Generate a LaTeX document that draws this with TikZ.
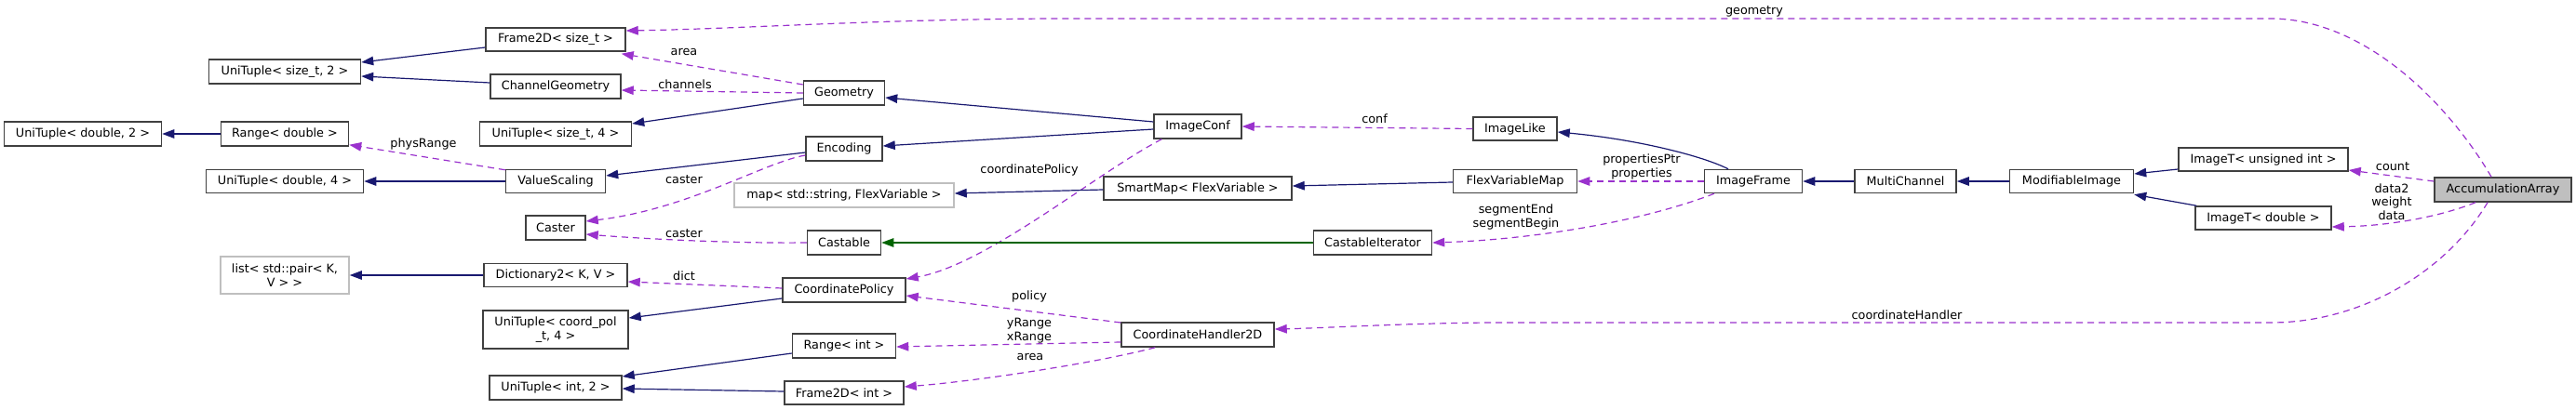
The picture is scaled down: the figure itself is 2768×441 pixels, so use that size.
\documentclass[tikz,border=0pt]{standalone}
\usepackage{fontspec}
\setmainfont{DejaVu Sans}
\usetikzlibrary{arrows.meta}
\definecolor{inhcol}{HTML}{191970}
\definecolor{usecol}{HTML}{9A32CD}
\definecolor{protcol}{HTML}{006400}
\definecolor{boxgray}{HTML}{BFBFBF}
\definecolor{edgegray}{HTML}{404040}
\begin{document}
\begin{tikzpicture}[x=1pt,y=-1pt,
  cls/.style={draw=edgegray, line width=1.5pt, fill=white, inner sep=0pt,
    font=\fontsize{12.8}{14.5}\selectfont, align=center},
  graycls/.style={cls, draw=boxgray},
  lbl/.style={font=\fontsize{12.8}{14.5}\selectfont, inner sep=0pt, align=center, text=black},
  tip/.style={-{Triangle[length=13pt,width=9.5pt]}},
  inh/.style={draw=inhcol, line width=1.2pt, tip},
  prot/.style={draw=protcol, line width=1.2pt, tip},
  use/.style={draw=usecol, line width=1.2pt, dash pattern=on 7pt off 5pt, tip}]
\useasboundingbox (0,0) rectangle (2768,441);

% rank 1
\node[cls, minimum width=169pt, minimum height=26pt] (ut_d2) at (89,144) {UniTuple< double, 2 >};
% rank 2
\node[cls, minimum width=163pt, minimum height=26pt] (ut_s2) at (306,77) {UniTuple< size\_t, 2 >};
\node[cls, minimum width=137pt, minimum height=26pt] (rd) at (306,144) {Range< double >};
\node[cls, minimum width=169pt, minimum height=25pt] (ut_d4) at (306,195) {UniTuple< double, 4 >};
\node[graycls, minimum width=138pt, minimum height=40pt] (list) at (306,296) {list< std::pair< K,\\V > >};
% rank 3
\node[cls, minimum width=150pt, minimum height=25pt] (f2s) at (597,42.5) {Frame2D< size\_t >};
\node[cls, minimum width=140pt, minimum height=26pt] (chg) at (597,93) {ChannelGeometry};
\node[cls, minimum width=163pt, minimum height=26pt] (ut_s4) at (597,144) {UniTuple< size\_t, 4 >};
\node[cls, minimum width=107pt, minimum height=25pt] (vs) at (597,195) {ValueScaling};
\node[cls, minimum width=64pt, minimum height=26pt] (caster) at (597,245) {Caster};
\node[cls, minimum width=154pt, minimum height=25pt] (dict) at (597,296) {Dictionary2< K, V >};
\node[cls, minimum width=156pt, minimum height=41pt] (utc) at (597,354.5) {UniTuple< coord\_pol\\\_t, 4 >};
\node[cls, minimum width=142pt, minimum height=26pt] (ut_i2) at (597,417) {UniTuple< int, 2 >};
% rank 4
\node[cls, minimum width=87pt, minimum height=26pt] (geom) at (907,100) {Geometry};
\node[cls, minimum width=82pt, minimum height=26pt] (enc) at (907,160) {Encoding};
\node[graycls, minimum width=236pt, minimum height=26pt] (map) at (907,210) {map< std::string, FlexVariable >};
\node[cls, minimum width=79pt, minimum height=26pt] (castable) at (907,261) {Castable};
\node[cls, minimum width=132pt, minimum height=26pt] (cpol) at (907,312) {CoordinatePolicy};
\node[cls, minimum width=111pt, minimum height=26pt] (ri) at (907,372) {Range< int >};
\node[cls, minimum width=128pt, minimum height=25pt] (f2i) at (907,422.5) {Frame2D< int >};
% rank 5
\node[cls, minimum width=94pt, minimum height=26pt] (iconf) at (1287,136) {ImageConf};
\node[cls, minimum width=202pt, minimum height=25pt] (smap) at (1287,202.5) {SmartMap< FlexVariable >};
\node[cls, minimum width=164pt, minimum height=26pt] (ch2d) at (1287,360) {CoordinateHandler2D};
% rank 6
\node[cls, minimum width=90pt, minimum height=25pt] (ilike) at (1628,138.5) {ImageLike};
\node[cls, minimum width=133pt, minimum height=25pt] (fvm) at (1628,195) {FlexVariableMap};
\node[cls, minimum width=127pt, minimum height=26pt] (citer) at (1475,261) {CastableIterator};
% right part
\node[cls, minimum width=105pt, minimum height=25pt] (iframe) at (1884,195) {ImageFrame};
\node[cls, minimum width=109pt, minimum height=25pt] (mch) at (2047.5,195) {MultiChannel};
\node[cls, minimum width=133pt, minimum height=25pt] (mimg) at (2226,195) {ModifiableImage};
\node[cls, minimum width=182pt, minimum height=25pt] (itu) at (2432,171.5) {ImageT< unsigned int >};
\node[cls, minimum width=146pt, minimum height=25pt] (itd) at (2432,234.5) {ImageT< double >};
\node[cls, fill=boxgray, minimum width=147pt, minimum height=26pt] (acc) at (2689.5,204) {AccumulationArray};

% edges
\draw[inh] ([yshift=-8.5pt]f2s.west) -- ([yshift=10pt]ut_s2.east);
\draw[inh] ([yshift=4pt]chg.west) -- ([yshift=-5pt]ut_s2.east);
\draw[inh] (rd.west) -- (ut_d2.east);
\draw[inh] (vs.west) -- (ut_d4.east);
\draw[use] ([yshift=-1pt]vs.north west) -- ([yshift=2pt]rd.south east) node[lbl] at (455,155) {physRange};
\draw[inh] (dict.west) -- (list.east);
\draw[use] ([yshift=9pt]geom.west) -- ([xshift=-5pt,yshift=-2pt]f2s.south east) node[lbl] at (735,56) {area};
\draw[use] (geom.west) -- ([yshift=-4pt]chg.east) node[lbl] at (736,91) {channels};
\draw[inh] ([yshift=-6pt]geom.west) -- ([yshift=11pt]ut_s4.east);
\draw[inh] ([yshift=-4pt]enc.west) -- ([yshift=6pt]vs.east);
\draw[use] ([yshift=-7pt]enc.west) .. controls (820,175) and (740,225) .. ([yshift=7pt]caster.east) node[lbl] at (735,193) {caster};
\draw[use] (castable.west) .. controls (780,262) and (680,256) .. ([yshift=-7pt]caster.east) node[lbl] at (735,251) {caster};
\draw[use] ([yshift=2pt]cpol.west) -- ([yshift=-7pt]dict.east) node[lbl] at (735,297) {dict};
\draw[inh] ([yshift=-9pt]cpol.west) -- ([yshift=12.5pt]utc.east);
\draw[inh] ([yshift=-8pt]ri.west) -- ([yshift=12pt]ut_i2.east);
\draw[inh] ([yshift=1.5pt]f2i.west) -- ([yshift=-1pt]ut_i2.east);
\draw[inh] ([yshift=5pt]iconf.west) -- ([yshift=-5pt]geom.east);
\draw[inh] ([yshift=-3pt]iconf.west) -- ([yshift=3pt]enc.east);
\draw[use] ([xshift=9pt]iconf.south west) .. controls (1180,185) and (1060,285) .. ([yshift=12pt]cpol.east) node[lbl] at (1106,183) {coordinatePolicy};
\draw[inh] ([yshift=-1.5pt]smap.west) -- ([yshift=2pt]map.east);
\draw[use] ([yshift=13pt]ch2d.west) -- ([yshift=-6pt]cpol.east) node[lbl] at (1106,319) {policy};
\draw[use] ([yshift=-8pt]ch2d.west) -- ([yshift=-1pt]ri.east) node[lbl] at (1106,355.5) {yRange\\xRange};
\draw[use] ([xshift=37pt]ch2d.south west) .. controls (1180,390) and (1050,410) .. ([yshift=6.5pt]f2i.east) node[lbl] at (1107,384) {area};
\draw[use] (ilike.west) -- (iconf.east) node[lbl] at (1477,128) {conf};
\draw[inh] ([yshift=-1pt]fvm.west) -- ([yshift=2.5pt]smap.east);
\draw[prot] (citer.west) -- (castable.east);
\draw[inh] ([xshift=-27pt]iframe.north) .. controls (1830,168) and (1760,150) .. ([yshift=-3.5pt]ilike.east);
\draw[use] (iframe.west) -- (fvm.east) node[lbl] at (1764,179.5) {propertiesPtr\\properties};
\draw[use] ([xshift=-42pt]iframe.south) .. controls (1760,240) and (1640,258) .. (citer.east) node[lbl] at (1629,233.5) {segmentEnd\\segmentBegin};
\draw[inh] (mch.west) -- (iframe.east);
\draw[inh] (mimg.west) -- (mch.east);
\draw[inh] ([yshift=-10.5pt]itu.west) -- ([yshift=8pt]mimg.east);
\draw[inh] ([xshift=2pt]itd.north west) -- ([yshift=-1pt]mimg.south east);
\draw[use] ([yshift=9pt]acc.west) -- ([yshift=-11.5pt]itu.east) node[lbl] at (2571,179) {count};
\draw[use] ([xshift=-29.5pt]acc.south) .. controls (2625,232) and (2570,243) .. ([yshift=-9.5pt]itd.east) node[lbl] at (2570,217) {data2\\weight\\data};
\draw[use] ([xshift=-12.5pt]acc.north) .. controls (2630,110) and (2540,20) .. (2440,20) -- (1150,20) .. controls (950,20) and (800,31) .. ([yshift=9.5pt]f2s.east) node[lbl] at (1885,12) {geometry};
\draw[use] ([xshift=-16.5pt]acc.south) .. controls (2630,290) and (2540,347) .. (2440,347) -- (1600,347) .. controls (1500,348) and (1420,353) .. ([yshift=6pt]ch2d.east) node[lbl] at (2049,339) {coordinateHandler};
\end{tikzpicture}
\end{document}
